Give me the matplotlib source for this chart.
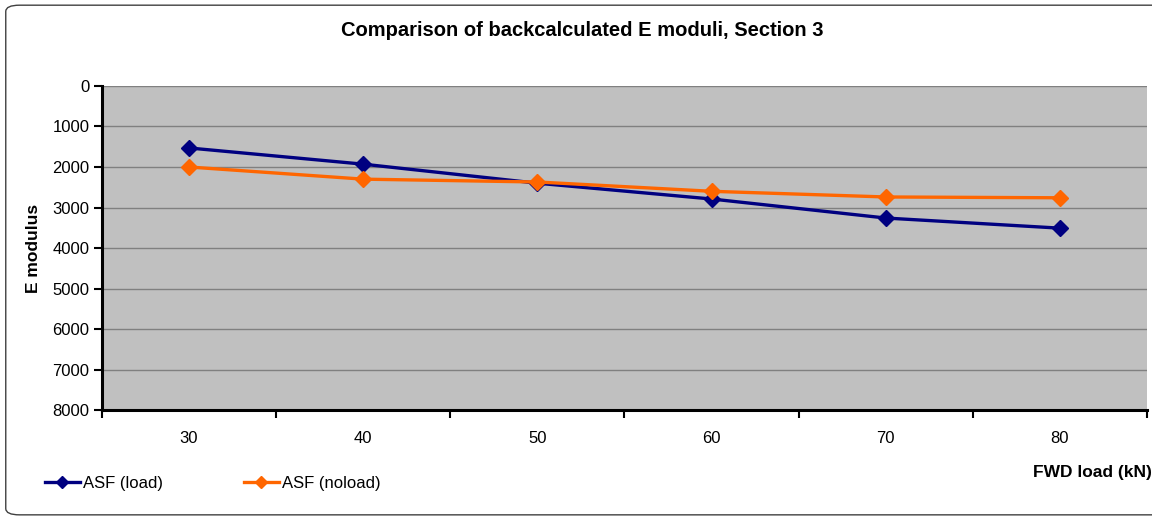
import matplotlib
matplotlib.use("Agg")
import numpy as np
import matplotlib.pyplot as plt
from matplotlib.patches import FancyBboxPatch
from matplotlib.lines import Line2D

# FWD loads (kN) and backcalculated moduli
loads = [30, 40, 50, 60, 70, 80]
e_load = [1530, 1930, 2400, 2790, 3260, 3510]
e_noload = [2000, 2300, 2370, 2600, 2740, 2760]

plt.rcParams['font.family'] = ['Liberation Sans', 'DejaVu Sans']

fig = plt.figure(figsize=(11.52, 5.19), dpi=100)

# rounded border round the chart (runs off the right edge)
border = FancyBboxPatch((0.005, 0.008), 1.02, 0.982, boxstyle="round,pad=0,rounding_size=0.012",
                        transform=fig.transFigure, facecolor='white', edgecolor='#404040',
                        linewidth=1.0, zorder=-10)
fig.patches.append(border)

ax = fig.add_axes([0.0885, 0.2100, 0.9072, 0.6243])
ax.set_facecolor('#C0C0C0')

x = np.arange(len(loads))
ax.plot(x, e_load, color='#000080', lw=2.4, marker='D', ms=8, zorder=3)
ax.plot(x, e_noload, color='#FF6600', lw=2.4, marker='D', ms=8, zorder=3)

ax.set_xlim(-0.5, len(loads) - 0.5)
ax.set_ylim(8000, 0)
ax.set_yticks(np.arange(0, 8001, 1000))
ax.yaxis.grid(True, color='#808080', lw=1.0)
ax.set_axisbelow(True)

# category boundaries carry the tick marks, labels sit at the centres
ax.set_xticks(np.arange(-0.5, len(loads), 1.0))
ax.set_xticklabels([])
ax.set_xticks(x, minor=True)
ax.set_xticklabels([str(v) for v in loads], minor=True)
ax.tick_params(axis='x', which='major', length=6, width=1.5, direction='out')
ax.tick_params(axis='x', which='minor', length=0, pad=15, labelsize=12)
ax.tick_params(axis='y', length=6, width=1.5, direction='out', labelsize=12, pad=3)

for s in ['top', 'right']:
    ax.spines[s].set_visible(False)
for s in ['left', 'bottom']:
    ax.spines[s].set_linewidth(2.2)

ax.set_ylabel('E modulus', fontsize=12.5, fontweight='bold')
ax.yaxis.set_label_coords(-0.058, 0.5)
fig.text(0.505, 0.942, 'Comparison of backcalculated E moduli, Section 3',
         ha='center', va='center', fontsize=14.5, fontweight='bold')
fig.text(0.948, 0.090, 'FWD load (kN)', ha='center', va='center',
         fontsize=12.5, fontweight='bold')

handles = [Line2D([], [], color='#000080', lw=2.4, marker='D', ms=6),
           Line2D([], [], color='#FF6600', lw=2.4, marker='D', ms=6)]
fig.legend(handles, ['ASF (load)', 'ASF (noload)'], loc='center left',
           bbox_to_anchor=(0.039, 0.069), ncol=2, frameon=False, fontsize=12,
           handlelength=2.1, handletextpad=0.18, columnspacing=4.85,
           borderpad=0, borderaxespad=0)

fig.savefig('out.png', dpi=100)
